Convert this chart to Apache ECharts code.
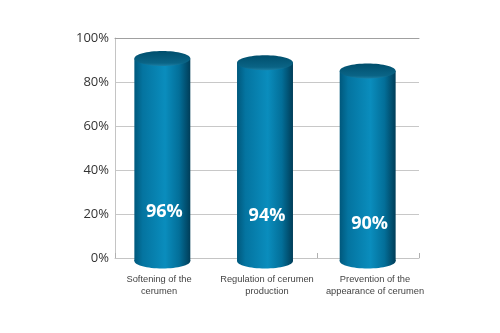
<!DOCTYPE html>
<html>
<head>
<meta charset="utf-8">
<script src="https://cdn.jsdelivr.net/npm/echarts@6/dist/echarts.min.js"></script>
<style>
  html, body { margin: 0; padding: 0; background: #fff; }
  #chart { width: 500px; height: 333px; }
</style>
</head>
<body>
<div id="chart"></div>
<script>
// Survey results per category, in percent
const categories = [
  'Softening of the\ncerumen',
  'Regulation of cerumen\nproduction',
  'Prevention of the\nappearance of cerumen'
];
const values = [96, 94, 90];
const labels = ['96%', '94%', '90%'];

const chart = echarts.init(document.getElementById('chart'), null, { renderer: 'canvas' });

const bodyGradient = new echarts.graphic.LinearGradient(0, 0, 1, 0, [
  { offset: 0, color: '#00587c' },
  { offset: 0.15, color: '#0474a0' },
  { offset: 0.55, color: '#0a8dbd' },
  { offset: 0.8, color: '#036f99' },
  { offset: 1, color: '#003d58' }
]);
const topGradient = new echarts.graphic.LinearGradient(0, 0, 0, 1, [
  { offset: 0, color: '#004e6c' },
  { offset: 0.8, color: '#0a6486' },
  { offset: 1, color: '#1a7ea3' }
]);

// Cylinder drawn from the value scale of the bar grid
function renderCylinder(params, api) {
  const idx = api.value(0);
  const top = api.coord([idx, api.value(1)]);
  const base = api.coord([idx, 0]);
  const w = api.size([1, 0])[0] * 0.545;
  const rx = w / 2;
  const ry = 7.5;
  const cx = top[0];
  return {
    type: 'group',
    children: [
      {
        type: 'ellipse',
        shape: { cx: cx, cy: base[1], rx: rx, ry: ry },
        style: { fill: bodyGradient }
      },
      {
        type: 'rect',
        shape: { x: cx - rx, y: top[1], width: w, height: base[1] - top[1] },
        style: { fill: bodyGradient }
      },
      {
        type: 'ellipse',
        shape: { cx: cx, cy: top[1], rx: rx, ry: ry },
        style: { fill: topGradient }
      },
      {
        type: 'text',
        style: {
          text: labels[params.dataIndex],
          x: cx + 2,
          y: top[1] + 153,
          align: 'center',
          verticalAlign: 'middle',
          fill: '#ffffff',
          font: 'bold 18px "Open Sans", sans-serif'
        }
      }
    ]
  };
}

chart.setOption({
  animation: false,
  backgroundColor: '#ffffff',
  grid: [
    { left: 115, right: 81, top: 38, bottom: 75 },
    { left: 111, right: 81, top: 50, bottom: 72 },
    { left: 105, right: 71, top: 50, bottom: 72 }
  ],
  xAxis: [
    {
      gridIndex: 0, type: 'category', data: categories, offset: 3,
      axisLine: { lineStyle: { color: '#c4c4c4', width: 1 } },
      axisTick: { show: true, inside: true, length: 5, lineStyle: { color: '#b0b0b0' } },
      axisLabel: { show: false }
    },
    {
      gridIndex: 0, type: 'category', data: categories, position: 'top',
      axisLine: { lineStyle: { color: '#a0a0a0', width: 1 } },
      axisTick: { show: false }, axisLabel: { show: false }
    },
    {
      gridIndex: 1, type: 'category', data: categories, show: false
    },
    {
      gridIndex: 2, type: 'category', data: categories,
      axisLine: { show: false }, axisTick: { show: false },
      axisLabel: {
        margin: 13, fontSize: 9.3, lineHeight: 11.5, color: '#444',
        fontFamily: '"Liberation Sans", Arial, sans-serif', interval: 0
      }
    }
  ],
  yAxis: [
    {
      gridIndex: 0, type: 'value', min: 0, max: 100, interval: 20,
      axisLine: { show: true, lineStyle: { color: '#c4c4c4' } },
      axisTick: { show: false },
      axisLabel: {
        formatter: '{value}%', fontSize: 13, color: '#333', margin: 6,
        fontFamily: '"Open Sans", sans-serif'
      },
      splitLine: { show: true, showMinLine: false, showMaxLine: false, lineStyle: { color: '#c8c8c8' } }
    },
    { gridIndex: 1, type: 'value', min: 0, max: 100, show: false },
    { gridIndex: 2, type: 'value', min: 0, max: 100, show: false }
  ],
  series: [
    {
      type: 'custom',
      xAxisIndex: 2,
      yAxisIndex: 1,
      renderItem: renderCylinder,
      data: values.map((v, i) => [i, v]),
      z: 5
    }
  ]
});
</script>
</body>
</html>
